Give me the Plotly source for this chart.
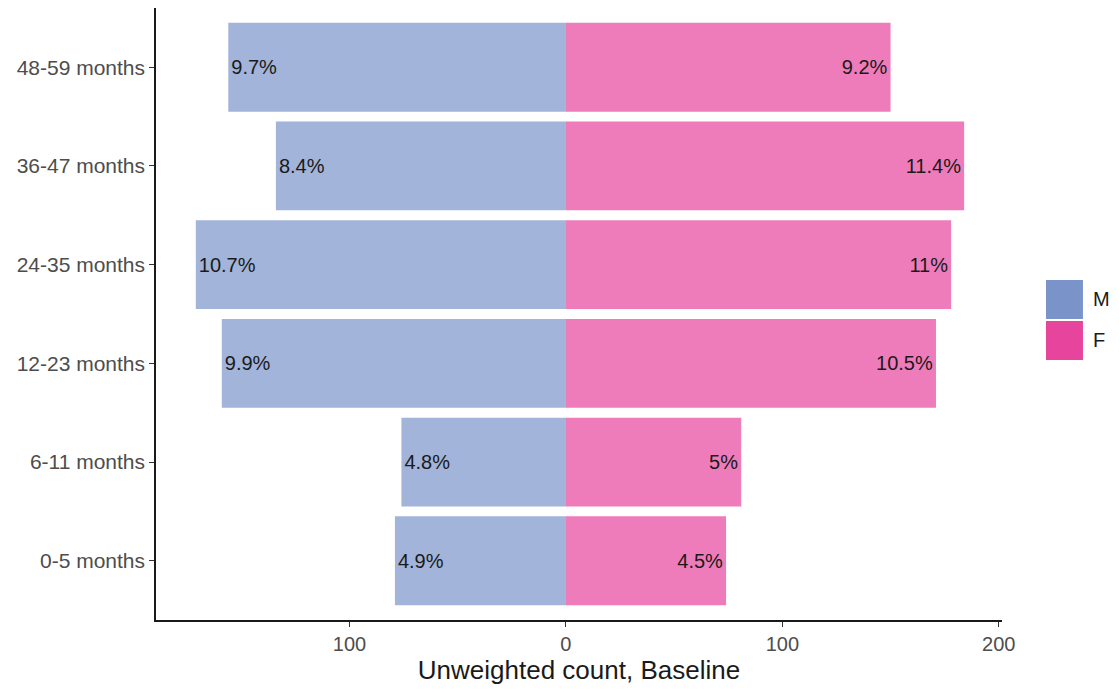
import plotly.graph_objects as go

categories = ["0-5 months", "6-11 months", "12-23 months", "24-35 months", "36-47 months", "48-59 months"]
male_counts = [79, 76, 159, 171, 134, 156]
female_counts = [74, 81, 171, 178, 184, 150]
male_labels = ["4.9%", "4.8%", "9.9%", "10.7%", "8.4%", "9.7%"]
female_labels = ["4.5%", "5%", "10.5%", "11%", "11.4%", "9.2%"]
x_tickvals = [-100, 0, 100, 200]
x_ticktext = ["100", "0", "100", "200"]

M_KEY = "#7a94c9"
F_KEY = "#e7449d"
M_BAR = "rgba(122,148,201,0.7)"
F_BAR = "rgba(231,68,157,0.7)"
FONT = "Liberation Sans, Arial, sans-serif"

fig = go.Figure()
fig.add_trace(go.Bar(
    y=categories, x=[-v for v in male_counts], orientation="h", name="M",
    marker=dict(color=M_BAR, line=dict(width=0)),
    text=male_labels, textposition="inside", insidetextanchor="end",
    insidetextfont=dict(color="#1a1a1a", size=20, family=FONT),
    textangle=0, cliponaxis=False, showlegend=False,
))
fig.add_trace(go.Bar(
    y=categories, x=female_counts, orientation="h", name="F",
    marker=dict(color=F_BAR, line=dict(width=0)),
    text=female_labels, textposition="inside", insidetextanchor="end",
    insidetextfont=dict(color="#1a1a1a", size=20, family=FONT),
    textangle=0, cliponaxis=False, showlegend=False,
))

# custom legend (ggplot-style keys)
legend_items = [("M", M_KEY, 0.5556, 0.4918), ("F", F_KEY, 0.4886, 0.4248)]
for name, col, y1, y0 in legend_items:
    fig.add_shape(type="rect", xref="paper", yref="paper", x0=1.052, x1=1.0957, y0=y0, y1=y1,
                  fillcolor=col, line=dict(width=0))
    fig.add_annotation(xref="paper", yref="paper", x=1.105, y=(y0 + y1) / 2, text=name,
                       showarrow=False, xanchor="left", yanchor="middle",
                       font=dict(size=20, color="#1a1a1a", family=FONT))

fig.update_layout(
    width=1111, height=681,
    margin=dict(l=148, r=117, t=0, b=69),
    plot_bgcolor="white", paper_bgcolor="white",
    barmode="overlay", bargap=0.1,
    font=dict(family=FONT, color="#4d4d4d", size=20),
    uniformtext=dict(mode=False),
)
fig.update_xaxes(
    range=[-189.4, 201.5], tickvals=x_tickvals, ticktext=x_ticktext,
    showgrid=False, zeroline=False, showline=True, linecolor="#1a1a1a", linewidth=1.5,
    ticks="outside", ticklen=5, tickcolor="#333333", tickwidth=1,
    tickfont=dict(size=20, color="#4d4d4d"),
    title=dict(text="Unweighted count, Baseline", font=dict(size=26, color="#1a1a1a"), standoff=2),
)
fig.update_yaxes(
    categoryorder="array", categoryarray=categories, range=[-0.6, 5.6],
    showgrid=False, zeroline=False, showline=True, linecolor="#1a1a1a", linewidth=1.5,
    ticks="outside", ticklen=5, tickcolor="#333333", tickwidth=1,
    tickfont=dict(size=21, color="#4d4d4d"),
)

fig.write_html("out.html")
